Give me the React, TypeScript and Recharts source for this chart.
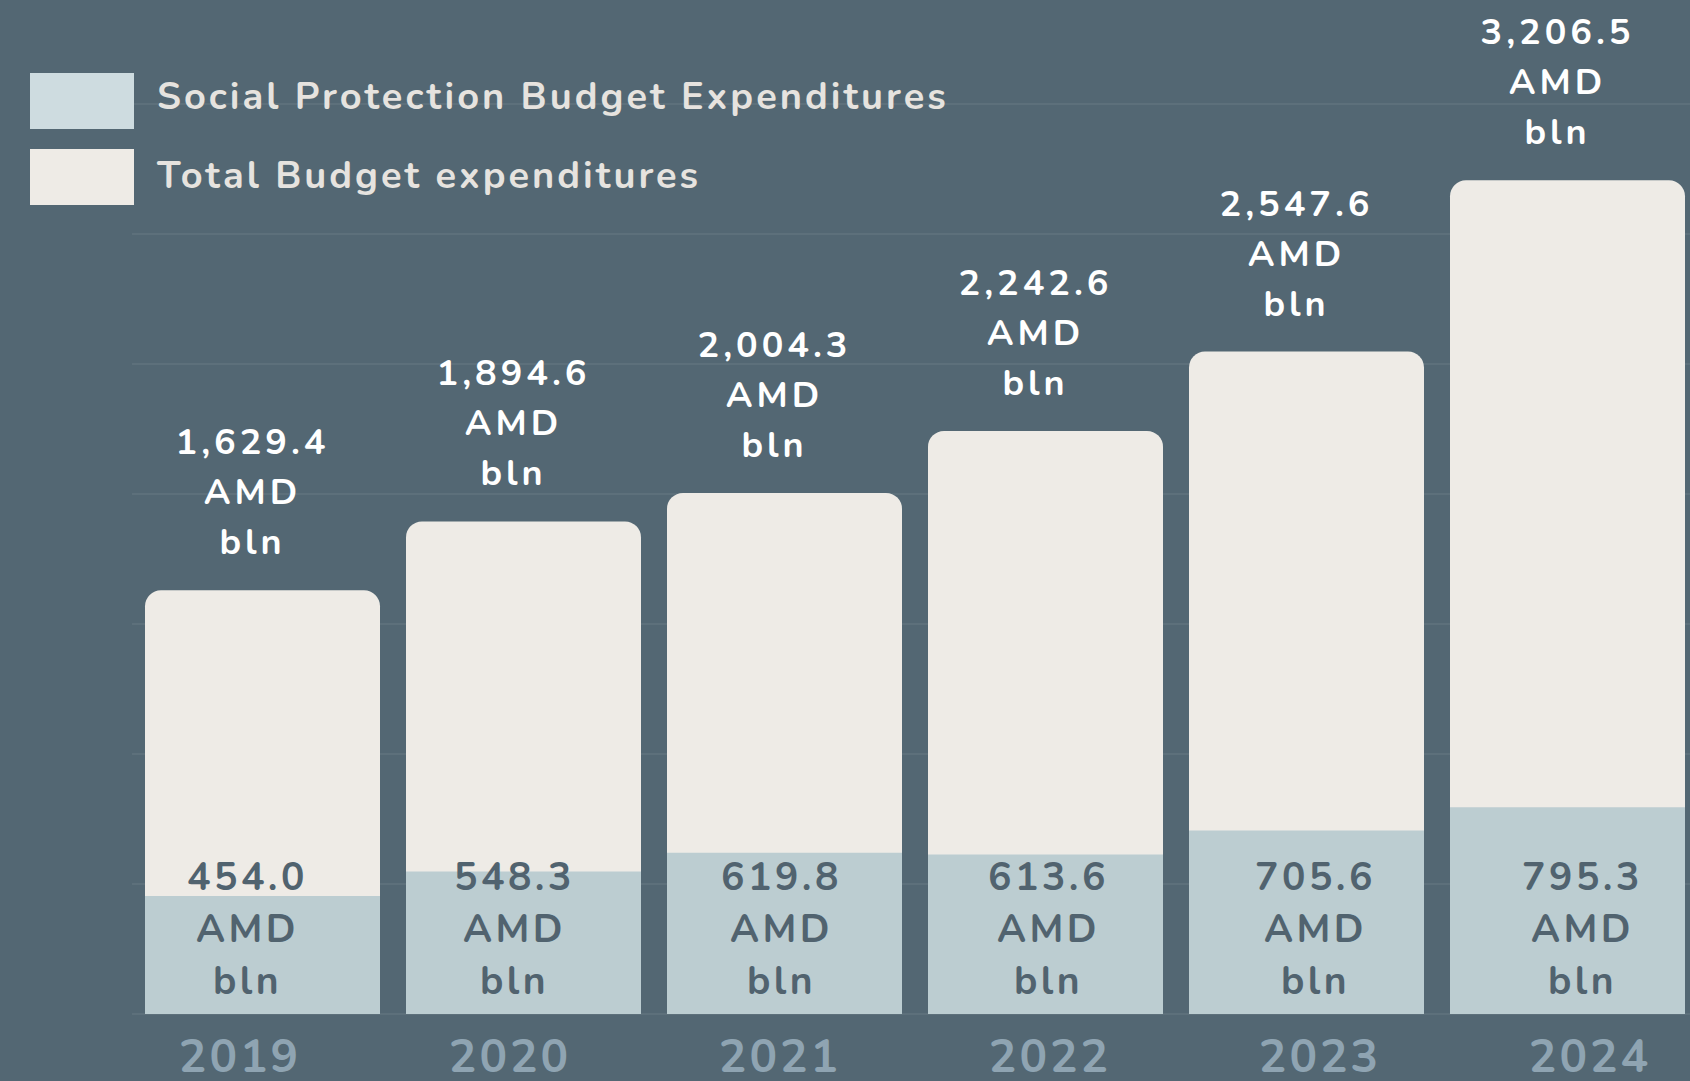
import React from "react";
import { BarChart, Bar, XAxis, YAxis, CartesianGrid, LabelList } from "recharts";

const years = ["2019", "2020", "2021", "2022", "2023", "2024"];
const totalBudget = [1629.4, 1894.6, 2004.3, 2242.6, 2547.6, 3206.5];
const socialProtection = [454.0, 548.3, 619.8, 613.6, 705.6, 795.3];
const yTicks = [0, 500, 1000, 1500, 2000, 2500, 3000, 3500];

const legendItems = [
  { name: "Social Protection Budget Expenditures", color: "#CEDCE0" },
  { name: "Total Budget expenditures", color: "#EEEBE6" },
];

const data = years.map((year, i) => ({
  year,
  total: totalBudget[i],
  social: socialProtection[i],
}));

const BG = "#536773";
const FONT = "Nunito, Lato, sans-serif";

const fmt = (v: number) =>
  v.toLocaleString("en-US", { minimumFractionDigits: 1, maximumFractionDigits: 1 });

function TotalLabel(props: any) {
  const { x, y, width, value } = props;
  const cx = x + width / 2 - 10;
  return (
    <text
      x={cx}
      y={y}
      textAnchor="middle"
      fill="#FFFFFF"
      fontFamily={FONT}
      fontWeight={700}
      fontSize={36}
      letterSpacing={4}
    >
      <tspan x={cx} dy={-136}>{fmt(value)}</tspan>
      <tspan x={cx} dy={50}>AMD</tspan>
      <tspan x={cx} dy={50}>bln</tspan>
    </text>
  );
}

function SocialLabel(props: any) {
  const { x, y, width, height, value, index } = props;
  const cx = x + width / 2 + (index - 2.5) * 6;
  const bottom = y + height;
  return (
    <text
      x={cx}
      y={bottom}
      textAnchor="middle"
      fill="#51636F"
      fontFamily={FONT}
      fontWeight={700}
      fontSize={39}
      letterSpacing={3.5}
    >
      <tspan x={cx} dy={-124}>{fmt(value)}</tspan>
      <tspan x={cx} dy={52}>AMD</tspan>
      <tspan x={cx} dy={52}>bln</tspan>
    </text>
  );
}

function YearTick(props: any) {
  const { x, y, payload, index } = props;
  const cx = x + (index - 2.5) * 9;
  return (
    <text
      x={cx}
      y={y}
      dy={50}
      textAnchor="middle"
      fill="#8FA4B2"
      fontFamily={FONT}
      fontWeight={700}
      fontSize={46}
      letterSpacing={3}
    >
      {payload.value}
    </text>
  );
}

export default function App() {
  return (
    <div
      style={{
        position: "absolute",
        top: 0,
        left: 0,
        width: 1690,
        height: 1081,
        background: BG,
        overflow: "hidden",
      }}
    >
      <BarChart
        width={1690}
        height={1081}
        data={data}
        margin={{ top: 104, right: -8, left: 132, bottom: 0 }}
        barSize={235}
        barGap={-235}
      >
        <CartesianGrid vertical={false} stroke="#61737E" strokeWidth={1.5} />
        <YAxis hide domain={[0, 3500]} ticks={yTicks} />
        <XAxis
          dataKey="year"
          axisLine={false}
          tickLine={false}
          height={67}
          interval={0}
          tick={<YearTick />}
        />
        <Bar dataKey="total" fill="#EEEBE6" radius={[16, 16, 0, 0]} isAnimationActive={false}>
          <LabelList dataKey="total" content={<TotalLabel />} />
        </Bar>
        <Bar dataKey="social" fill="#BCCDD1" isAnimationActive={false}>
          <LabelList dataKey="social" content={<SocialLabel />} />
        </Bar>
      </BarChart>
      <div
        style={{
          position: "absolute",
          top: 73,
          left: 30,
          fontFamily: FONT,
        }}
      >
        {legendItems.map((item, i) => (
          <div
            key={item.name}
            style={{
              display: "flex",
              alignItems: "center",
              height: 56,
              marginBottom: i === 0 ? 20 : 0,
            }}
          >
            <div style={{ width: 104, height: 56, background: item.color }} />
            <span
              style={{
                marginLeft: 23,
                marginTop: i === 0 ? -10 : -3,
                color: "#E6E3DF",
                fontSize: 38,
                fontWeight: 700,
                letterSpacing: 3,
                whiteSpace: "nowrap",
              }}
            >
              {item.name}
            </span>
          </div>
        ))}
      </div>
    </div>
  );
}
